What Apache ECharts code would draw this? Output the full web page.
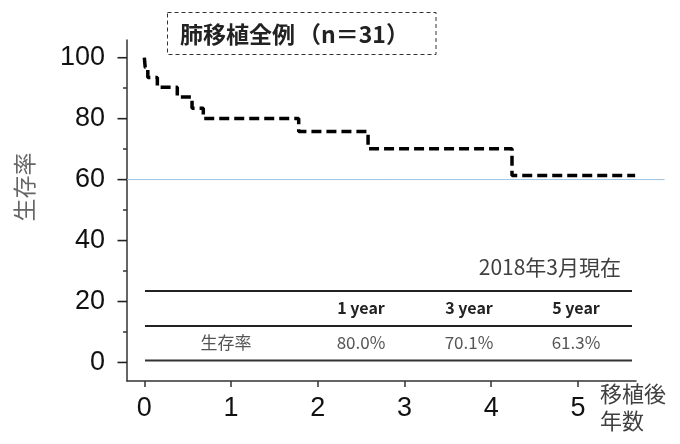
<!DOCTYPE html>
<html><head><meta charset="utf-8">
<script src="https://cdn.jsdelivr.net/npm/echarts@6/dist/echarts.min.js"></script>
<style>html,body{margin:0;padding:0;background:#fff}#c{width:680px;height:444px}</style>
</head><body><div id="c"></div>
<script>
// Kaplan-Meier step points (years, survival %)
const kmTime = [0, 0.01, 0.04, 0.15, 0.38, 0.55, 0.68, 1.78, 2.58, 4.24, 5.66];
const kmSurv = [100, 96.8, 93.5, 90.3, 87.1, 83.4, 80.0, 75.8, 70.1, 61.3, 61.3];
const xTicks = [0, 1, 2, 3, 4, 5];
const yTicks = [0, 20, 40, 60, 80, 100];
const yMinorTicks = [10, 30, 50, 70, 90];
const refLineY = 60;
const refLineXEnd = 6.0;
const titleMain = '肺移植全例';
const titleN = '（n＝31）';
const xName = '移植後\n年数';
const yName = '生存率';
const tableNote = '2018年3月現在';
const tableHeaders = ['1 year', '3 year', '5 year'];
const tableRowLabel = '生存率';
const tableValues = ['80.0%', '70.1%', '61.3%'];

const numFont = '"Liberation Sans", Arial, sans-serif';
const jpFont = '"Noto Sans CJK JP", sans-serif';

const chart = echarts.init(document.getElementById('c'), null, {renderer: 'canvas'});
const X_MIN = -0.2, X_MAX = 5.67, Y_MIN = -6.1, Y_MAX = 105.8;
const tickStyle = {color: '#333', width: 1.5};
chart.setOption({
  animation: false,
  backgroundColor: '#fff',
  grid: {left: 127, right: 44, top: 40, bottom: 63, containLabel: false},
  xAxis: {
    type: 'value', min: X_MIN, max: X_MAX,
    splitLine: {show: false},
    axisLine: {show: true, onZero: false, lineStyle: {color: '#333', width: 1.5}},
    axisTick: {show: true, customValues: xTicks, length: 6, lineStyle: tickStyle},
    axisLabel: {show: true, customValues: xTicks, margin: 14, color: '#111', fontSize: 27, fontFamily: numFont}
  },
  yAxis: [{
    type: 'value', min: Y_MIN, max: Y_MAX, position: 'left',
    splitLine: {show: false},
    axisLine: {show: true, onZero: false, lineStyle: {color: '#333', width: 1.5}},
    axisTick: {show: false},
    axisLabel: {show: true, customValues: yTicks, margin: 22, color: '#111', fontSize: 27, fontFamily: numFont}
  }, {
    type: 'value', min: Y_MIN, max: Y_MAX, position: 'left',
    splitLine: {show: false},
    axisLine: {show: false, onZero: false},
    axisTick: {show: true, customValues: yMinorTicks, length: 4, lineStyle: tickStyle},
    axisLabel: {show: false}
  }],
  series: [{
    type: 'line', step: 'end', symbol: 'none', yAxisIndex: 0,
    data: kmTime.map((t, i) => [t, kmSurv[i]]),
    lineStyle: {color: '#000', width: 3.5, type: [10, 5]},
    z: 5
  }]
});

const p0 = chart.convertToPixel({xAxisIndex: 0, yAxisIndex: 0}, [X_MIN, refLineY]);
const p1 = chart.convertToPixel({xAxisIndex: 0, yAxisIndex: 0}, [refLineXEnd, refLineY]);

const colX = [226, 361, 469, 576];
const g = [
  {type: 'line', shape: {x1: p0[0], y1: p0[1], x2: p1[0], y2: p1[1]},
   style: {stroke: '#9DC3E6', lineWidth: 1}, z: 1},
  {type: 'rect', shape: {x: 167.5, y: 12.5, width: 268.5, height: 42},
   style: {fill: 'none', stroke: '#333', lineWidth: 1, lineDash: [4, 3]}},
  {type: 'text', x: 180, y: 34, style: {text: titleMain, font: 'bold 23px ' + jpFont, fill: '#222', verticalAlign: 'middle', align: 'left'}},
  {type: 'text', x: 298, y: 34, style: {text: titleN, font: 'bold 23px ' + jpFont, fill: '#222', verticalAlign: 'middle', align: 'left'}},
  {type: 'text', x: 24, y: 187, rotation: Math.PI / 2,
   style: {text: yName, font: '23px ' + jpFont, fill: '#666', align: 'center', verticalAlign: 'middle'}},
  {type: 'text', x: 600, y: 407,
   style: {text: xName, font: '22px ' + jpFont, fill: '#404040', align: 'left', verticalAlign: 'middle', lineHeight: 27}},
  {type: 'text', x: 621, y: 267,
   style: {text: tableNote, font: '21px ' + jpFont, fill: '#404040', align: 'right', verticalAlign: 'middle'}},
  {type: 'line', shape: {x1: 145, y1: 291, x2: 632, y2: 291}, style: {stroke: '#222', lineWidth: 2}},
  {type: 'line', shape: {x1: 145, y1: 326, x2: 632, y2: 326}, style: {stroke: '#222', lineWidth: 2}},
  {type: 'line', shape: {x1: 145, y1: 360.5, x2: 632, y2: 360.5}, style: {stroke: '#333', lineWidth: 2}},
  {type: 'text', x: colX[0], y: 343, style: {text: tableRowLabel, font: '17px ' + jpFont, fill: '#555', align: 'center', verticalAlign: 'middle'}}
];
// major y ticks, placed through the y axis scale
yTicks.forEach(v => {
  const p = chart.convertToPixel({xAxisIndex: 0, yAxisIndex: 0}, [X_MIN, v]);
  g.push({type: 'rect', z: 100, shape: {x: p[0] - 9.5, y: p[1] - 0.75, width: 9.5, height: 1.6}, style: {fill: '#222'}});
});
tableHeaders.forEach((h, i) => {
  g.push({type: 'text', x: colX[i + 1], y: 308, style: {text: h, font: 'bold 16px ' + jpFont, fill: '#222', align: 'center', verticalAlign: 'middle'}});
});
tableValues.forEach((v, i) => {
  g.push({type: 'text', x: colX[i + 1], y: 343, style: {text: v, font: '17px ' + jpFont, fill: '#555', align: 'center', verticalAlign: 'middle'}});
});
chart.setOption({graphic: g});
</script>
</body></html>
